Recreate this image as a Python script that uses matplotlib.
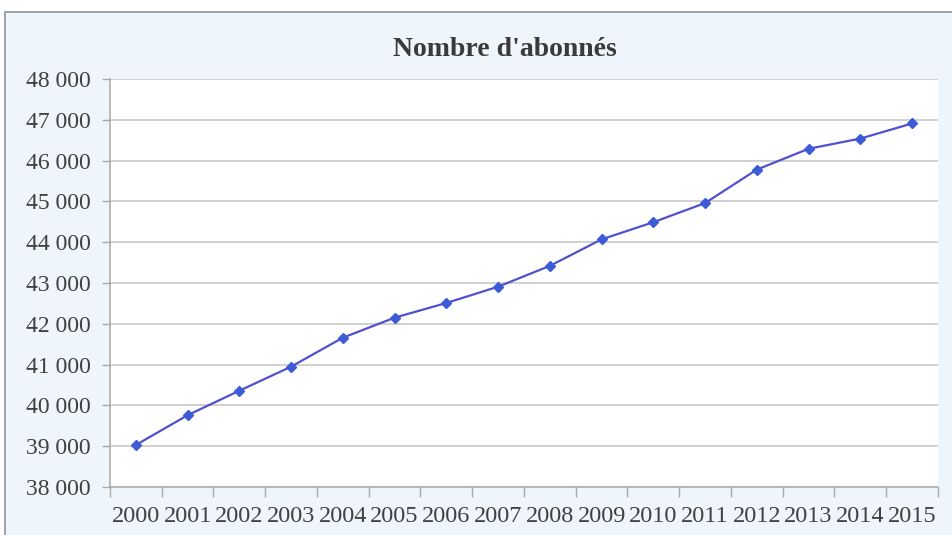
import matplotlib
matplotlib.use("Agg")
import matplotlib.pyplot as plt
from matplotlib.patches import Rectangle
from matplotlib.ticker import FuncFormatter, FixedLocator, NullFormatter

years = [str(y) for y in range(2000, 2016)]
abonnes = [39030, 39760, 40360, 40950, 41660, 42150, 42510, 42910,
           43420, 44070, 44490, 44960, 45780, 46290, 46540, 46910]
title = "Nombre d'abonnés"

plt.rcParams['font.family'] = ['Liberation Serif', 'DejaVu Serif']

fig = plt.figure(figsize=(9.53, 5.35), dpi=100)
fig.patch.set_facecolor('white')

# light blue chart frame
frame = Rectangle((5 / 953, -0.05), 1.1, 0.05 + 1 - 12 / 535,
                  transform=fig.transFigure, facecolor='#eef6fc',
                  edgecolor='#9a9a9a', linewidth=1.3, zorder=-5)
fig.patches.append(frame)

ax = fig.add_axes([110 / 953, 1 - 487 / 535, (938 - 110) / 953, (487 - 79) / 535])
ax.set_zorder(2)
ax.set_facecolor('white')

x = list(range(len(years)))
ax.plot(x, abonnes, color='#4f52cc', linewidth=1.6, marker='D',
        markersize=5, markerfacecolor='#3d5bd6', markeredgecolor='#3d5bd6',
        zorder=3)

ax.set_xlim(-0.5, len(years) - 0.5)
ax.set_ylim(38000, 48000)
ax.set_yticks(range(38000, 48001, 1000))
ax.yaxis.set_major_formatter(FuncFormatter(lambda v, p: f"{int(v):,}".replace(",", " ")))
ax.yaxis.grid(True, color='#c4c4c4', linewidth=1.1)
ax.set_axisbelow(True)

ax.xaxis.set_major_locator(FixedLocator([i - 0.5 for i in range(len(years) + 1)]))
ax.xaxis.set_major_formatter(NullFormatter())
ax.set_xticks(x, minor=True)
ax.set_xticklabels(years, minor=True)
ax.tick_params(axis='x', which='minor', length=0, pad=14, labelsize=17.5, labelcolor='#404040')
ax.tick_params(axis='x', which='major', length=7, width=1, color='#a8a8a8', direction='out')
ax.tick_params(axis='y', length=6, width=1, color='#a8a8a8', pad=8,
               labelsize=17, labelcolor='#404040')

for side in ['top', 'right']:
    ax.spines[side].set_visible(False)
for side in ['left', 'bottom']:
    ax.spines[side].set_color('#a8a8a8')
    ax.spines[side].set_linewidth(1.1)

fig.text(505 / 953, 1 - 49 / 535, title, ha='center', va='center',
         fontsize=20, fontweight='bold', color='#3a3a3a')

fig.savefig('out.png', dpi=100)
